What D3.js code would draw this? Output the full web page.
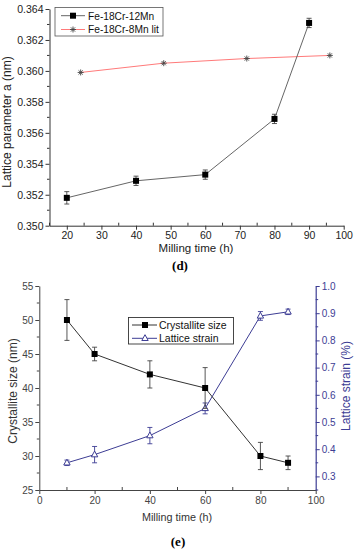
<!DOCTYPE html>
<html><head><meta charset="utf-8">
<script src="https://cdn.jsdelivr.net/npm/d3@7"></script>
<style>body{margin:0;background:#fff}svg{display:block;font-family:"Liberation Sans",Arial,sans-serif}</style>
</head><body><svg id="c" width="357" height="550"></svg>
<script>
// ---- Panel (d) data ----
const dTimes = [20, 40, 60, 80, 90];
const dLattice = [0.3518, 0.3529, 0.3533, 0.3569, 0.3631];
const dLatticeErr = [0.0004, 0.0003, 0.0003, 0.0003, 0.0003];
const litTimes = [24, 48, 72, 96];
const litLattice = [0.3599, 0.3605, 0.3608, 0.3610];
const dXTicks = [20, 30, 40, 50, 60, 70, 80, 90, 100];
const dYTicks = [0.350, 0.352, 0.354, 0.356, 0.358, 0.360, 0.362, 0.364];
const dSeriesNames = ["Fe-18Cr-12Mn", "Fe-18Cr-8Mn lit"];

// ---- Panel (e) data ----
const eTimes = [10, 20, 40, 60, 80, 90];
const crystSize = [50, 45, 42, 40, 30, 29];
const crystErr = [3, 1, 2, 3, 2, 1];
const strain = [0.35, 0.38, 0.45, 0.55, 0.89, 0.905];
const strainErr = [0.01, 0.03, 0.03, 0.02, 0.016, 0.01];
const eXTicks = [0, 20, 40, 60, 80, 100];
const eYTicks = [25, 30, 35, 40, 45, 50, 55];
const eY2Ticks = [0.3, 0.4, 0.5, 0.6, 0.7, 0.8, 0.9, 1.0];
const eSeriesNames = ["Crystallite size", "Lattice strain"];

const svg = d3.select("#c");
const STRAIN = "#3d3d94";

function starPath(r){return `M${-r},0H${r}M0,${-r}V${r}M${-r*0.7},${-r*0.7}L${r*0.7},${r*0.7}M${-r*0.7},${r*0.7}L${r*0.7},${-r*0.7}`;}

// ================= Panel (d) =================
{
  const x = d3.scaleLinear().domain([15, 100]).range([49.5, 343.7]);
  const y = d3.scaleLinear().domain([0.350, 0.364]).range([225.7, 9]);
  const g = svg.append("g");
  // minor ticks
  const xMinor = d3.range(15, 100, 10);
  g.selectAll(".xm").data(xMinor).join("line")
    .attr("x1", d => x(d)).attr("x2", d => x(d)).attr("y1", y(0.350)).attr("y2", y(0.350) - 3)
    .attr("stroke", "#333");
  const yMinor = d3.range(0.351, 0.364, 0.002);
  g.selectAll(".ym").data(yMinor).join("line")
    .attr("x1", x(15)).attr("x2", x(15) - 2.5).attr("y1", d => y(d)).attr("y2", d => y(d))
    .attr("stroke", "#333");
  const xa = g.append("g").attr("transform", `translate(0,${y(0.350)})`)
    .call(d3.axisBottom(x).tickValues(dXTicks).tickSize(4).tickPadding(1.5).tickSizeOuter(0));
  const ya = g.append("g").attr("transform", `translate(${x(15)},0)`)
    .call(d3.axisLeft(y).tickValues(dYTicks).tickFormat(d3.format(".3f")).tickSize(4).tickPadding(2).tickSizeOuter(0));
  [xa, ya].forEach(a => {
    a.select(".domain").attr("stroke", "#333");
    a.selectAll(".tick line").attr("stroke", "#333");
    a.selectAll("text").attr("font-size", 10.5).attr("fill", "#222");
  });
  g.append("text").attr("x", 196).attr("y", 252).attr("text-anchor", "middle").attr("font-size", 11.5).attr("fill", "#222").text("Milling time (h)");
  g.append("text").attr("transform", "translate(11,122) rotate(-90)").attr("text-anchor", "middle").attr("font-size", 12).attr("fill", "#222").text("Lattice parameter a (nm)");
  g.append("text").attr("x", 180).attr("y", 270).attr("text-anchor", "middle").attr("font-size", 13).attr("font-weight", "bold").attr("font-family", "Liberation Serif, Times New Roman, serif").text("(d)");

  // lit line
  const lineLit = d3.line().x((d, i) => x(litTimes[i])).y(d => y(d));
  g.append("path").attr("d", lineLit(litLattice)).attr("fill", "none").attr("stroke", "#ff7a7a").attr("stroke-width", 1);
  g.selectAll(".star").data(litLattice).join("path")
    .attr("transform", (d, i) => `translate(${x(litTimes[i])},${y(d)})`)
    .attr("d", starPath(3)).attr("stroke", "#444").attr("stroke-width", 0.9).attr("fill", "none");

  // main series
  const line1 = d3.line().x((d, i) => x(dTimes[i])).y(d => y(d));
  g.append("path").attr("d", line1(dLattice)).attr("fill", "none").attr("stroke", "#666").attr("stroke-width", 1);
  dLattice.forEach((v, i) => {
    const cx = x(dTimes[i]), t = y(v + dLatticeErr[i]), b = y(v - dLatticeErr[i]);
    g.append("path").attr("d", `M${cx},${t}V${b}M${cx-2.5},${t}H${cx+2.5}M${cx-2.5},${b}H${cx+2.5}`).attr("stroke", "#444").attr("stroke-width", 0.9).attr("fill", "none");
  });
  g.selectAll(".sq").data(dLattice).join("rect")
    .attr("x", (d, i) => x(dTimes[i]) - 3).attr("y", d => y(d) - 3).attr("width", 6).attr("height", 6).attr("fill", "#000");

  // legend
  const lg = g.append("g");
  lg.append("rect").attr("x", 55).attr("y", 7.5).attr("width", 108).attr("height", 28.5).attr("fill", "#fff").attr("stroke", "#555").attr("stroke-width", 0.8);
  lg.append("line").attr("x1", 61).attr("x2", 85).attr("y1", 15.7).attr("y2", 15.7).attr("stroke", "#666");
  lg.append("rect").attr("x", 70).attr("y", 12.7).attr("width", 6).attr("height", 6).attr("fill", "#000");
  lg.append("line").attr("x1", 61).attr("x2", 85).attr("y1", 29.5).attr("y2", 29.5).attr("stroke", "#ff7a7a");
  lg.append("path").attr("transform", "translate(73,29.5)").attr("d", starPath(3)).attr("stroke", "#444").attr("stroke-width", 0.9);
  lg.selectAll(".lt").data(dSeriesNames).join("text").attr("x", 88).attr("y", (d, i) => 19.5 + i * 13.8)
    .attr("font-size", 10.2).attr("fill", "#111").text(d => d);
}

// ================= Panel (e) =================
{
  const x = d3.scaleLinear().domain([0, 100]).range([39.3, 315.7]);
  const y = d3.scaleLinear().domain([25, 55]).range([490, 286]);
  const y2 = d3.scaleLinear().domain([0.25, 1.0]).range([490, 286]);
  const g = svg.append("g");
  // minor ticks
  g.selectAll(".xm").data(d3.range(10, 100, 20)).join("line")
    .attr("x1", d => x(d)).attr("x2", d => x(d)).attr("y1", 490).attr("y2", 487).attr("stroke", "#444");
  g.selectAll(".ym").data(d3.range(27.5, 55, 5)).join("line")
    .attr("x1", x(0)).attr("x2", x(0) - 2.5).attr("y1", d => y(d)).attr("y2", d => y(d)).attr("stroke", "#444");
  g.selectAll(".y2m").data(d3.range(0.25, 1.0, 0.1)).join("line")
    .attr("x1", x(100)).attr("x2", x(100) + 2.5).attr("y1", d => y2(d)).attr("y2", d => y2(d)).attr("stroke", STRAIN);
  const xa = g.append("g").attr("transform", "translate(0,490)")
    .call(d3.axisBottom(x).tickValues(eXTicks).tickSize(4).tickPadding(3).tickSizeOuter(0));
  const ya = g.append("g").attr("transform", `translate(${x(0)},0)`)
    .call(d3.axisLeft(y).tickValues(eYTicks).tickSize(4).tickPadding(2).tickSizeOuter(0));
  const ya2 = g.append("g").attr("transform", `translate(${x(100)},0)`)
    .call(d3.axisRight(y2).tickValues(eY2Ticks).tickFormat(d3.format(".1f")).tickSize(4).tickPadding(2).tickSizeOuter(0));
  [xa, ya].forEach(a => {
    a.select(".domain").attr("stroke", "#444");
    a.selectAll(".tick line").attr("stroke", "#444");
    a.selectAll("text").attr("font-size", 10).attr("fill", "#444");
  });
  ya2.select(".domain").attr("stroke", STRAIN).attr("stroke-width", 1.2);
  ya2.selectAll(".tick line").attr("stroke", STRAIN);
  ya2.selectAll("text").attr("font-size", 10).attr("fill", STRAIN);

  g.append("text").attr("x", 177).attr("y", 521).attr("text-anchor", "middle").attr("font-size", 10.8).attr("fill", "#333").text("Milling time (h)");
  g.append("text").attr("transform", "translate(17,391) rotate(-90)").attr("text-anchor", "middle").attr("font-size", 12).attr("fill", "#333").text("Crystallite size (nm)");
  g.append("text").attr("transform", "translate(350,386) rotate(-90)").attr("text-anchor", "middle").attr("font-size", 12).attr("fill", STRAIN).text("Lattice strain (%)");
  g.append("text").attr("x", 178).attr("y", 546).attr("text-anchor", "middle").attr("font-size", 13).attr("font-weight", "bold").attr("font-family", "Liberation Serif, Times New Roman, serif").text("(e)");

  // strain series
  const ls = d3.line().x((d, i) => x(eTimes[i])).y(d => y2(d));
  g.append("path").attr("d", ls(strain)).attr("fill", "none").attr("stroke", STRAIN).attr("stroke-width", 1);
  strain.forEach((v, i) => {
    const cx = x(eTimes[i]), t = y2(v + strainErr[i]), b = y2(v - strainErr[i]);
    g.append("path").attr("d", `M${cx},${t}V${b}M${cx-2.5},${t}H${cx+2.5}M${cx-2.5},${b}H${cx+2.5}`).attr("stroke", STRAIN).attr("stroke-width", 0.9).attr("fill", "none");
  });
  const tri = "M0,-3.6L3.2,2.2L-3.2,2.2Z";
  g.selectAll(".tri").data(strain).join("path")
    .attr("transform", (d, i) => `translate(${x(eTimes[i])},${y2(d)})`)
    .attr("d", tri).attr("fill", "#fff").attr("stroke", STRAIN).attr("stroke-width", 1);

  // crystallite series
  const lc = d3.line().x((d, i) => x(eTimes[i])).y(d => y(d));
  g.append("path").attr("d", lc(crystSize)).attr("fill", "none").attr("stroke", "#333").attr("stroke-width", 1);
  crystSize.forEach((v, i) => {
    const cx = x(eTimes[i]), t = y(v + crystErr[i]), b = y(v - crystErr[i]);
    g.append("path").attr("d", `M${cx},${t}V${b}M${cx-2.5},${t}H${cx+2.5}M${cx-2.5},${b}H${cx+2.5}`).attr("stroke", "#444").attr("stroke-width", 0.9).attr("fill", "none");
  });
  g.selectAll(".sq").data(crystSize).join("rect")
    .attr("x", (d, i) => x(eTimes[i]) - 3).attr("y", d => y(d) - 3).attr("width", 6).attr("height", 6).attr("fill", "#000");

  // legend
  const lg = g.append("g");
  lg.append("rect").attr("x", 128.5).attr("y", 317.5).attr("width", 105).attr("height", 26.5).attr("fill", "#fff").attr("stroke", "#333").attr("stroke-width", 0.9);
  lg.append("line").attr("x1", 132).attr("x2", 157).attr("y1", 325).attr("y2", 325).attr("stroke", "#333");
  lg.append("rect").attr("x", 142).attr("y", 322).attr("width", 6).attr("height", 6).attr("fill", "#000");
  lg.append("line").attr("x1", 132).attr("x2", 157).attr("y1", 338.3).attr("y2", 338.3).attr("stroke", STRAIN);
  lg.append("path").attr("transform", "translate(145,338.3)").attr("d", tri).attr("fill", "#fff").attr("stroke", STRAIN);
  lg.selectAll(".lt").data(eSeriesNames).join("text").attr("x", 159).attr("y", (d, i) => 328.8 + i * 13.3)
    .attr("font-size", 10.5).attr("fill", "#111").text(d => d);
}
</script></body></html>
